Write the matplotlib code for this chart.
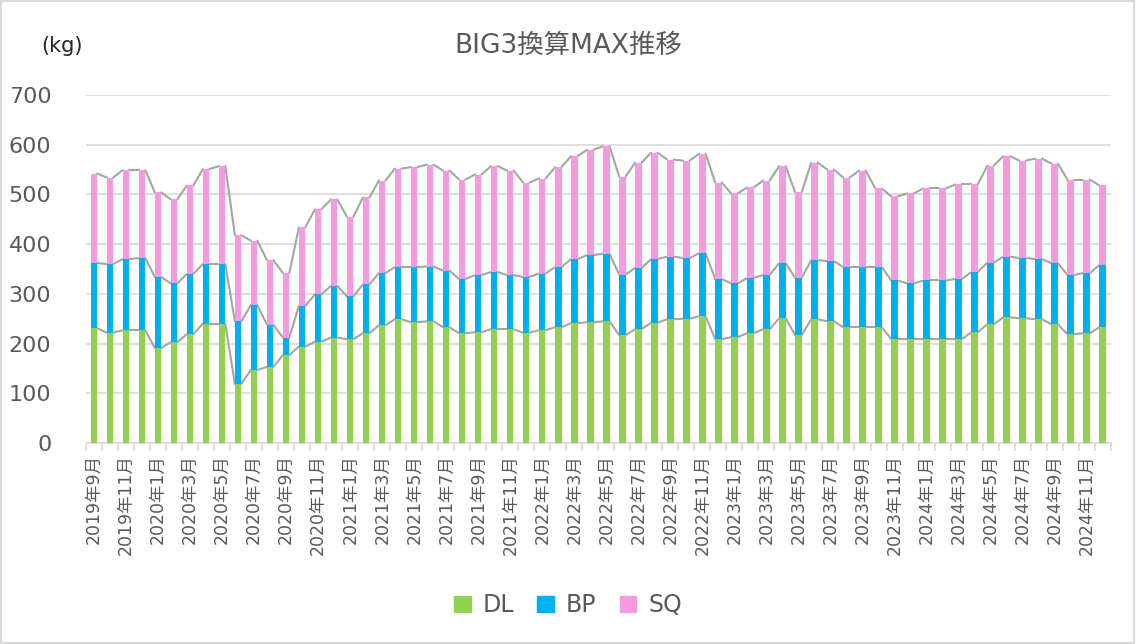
import matplotlib
matplotlib.use("Agg")
import matplotlib.pyplot as plt
from matplotlib.patches import Patch, Rectangle
import numpy as np

plt.rcParams['font.family'] = ['DejaVu Sans', 'Noto Sans CJK JP']

# months 2019-09 .. 2024-12
months = []
for y in range(2019, 2025):
    for m in range(1, 13):
        if (y, m) >= (2019, 9):
            months.append(f"{y}年{m}月")

DL = [231, 222, 227, 227, 191, 203, 219, 240, 240, 119, 147, 153, 177, 194, 204, 212,
      209, 221, 237, 249, 243, 245, 233, 221, 223, 229, 229, 222, 227, 233, 241, 243,
      245, 217, 229, 242, 249, 250, 255, 209, 213, 221, 229, 251, 217, 249, 245, 233,
      233, 233, 209, 209, 209, 209, 209, 223, 239, 253, 251, 249, 239, 219, 221, 233]
BP = [131, 138, 143, 145, 143, 118, 121, 120, 120, 126, 131, 85, 35, 82, 95, 104,
      86, 98, 105, 105, 111, 110, 114, 109, 115, 115, 109, 112, 114, 121, 129, 135,
      136, 122, 123, 128, 126, 122, 127, 121, 108, 111, 109, 111, 115, 119, 121, 121,
      121, 121, 118, 112, 118, 118, 121, 121, 124, 122, 121, 121, 123, 119, 121, 125]
SQ = [180, 174, 179, 177, 170, 169, 178, 191, 197, 173, 129, 130, 130, 158, 171, 174,
      160, 175, 186, 198, 201, 205, 201, 200, 202, 213, 210, 190, 191, 201, 207, 212,
      216, 197, 212, 214, 195, 196, 200, 194, 181, 182, 190, 195, 172, 196, 184, 180,
      194, 158, 169, 181, 185, 185, 190, 176, 195, 202, 196, 202, 200, 192, 188, 160]

colors = {"DL": "#92d050", "BP": "#00b0f0", "SQ": "#f59ae0"}
grey_txt = "#595959"

fig = plt.figure(figsize=(11.36, 6.44), dpi=100)
ax = fig.add_axes([0.0757, 0.312, 0.902, 0.5405])

x = np.arange(len(months))
w = 0.4
dl = np.array(DL); bp = np.array(BP); sq = np.array(SQ)
ax.bar(x, dl, w, color=colors["DL"], zorder=3)
ax.bar(x, bp, w, bottom=dl, color=colors["BP"], zorder=3)
ax.bar(x, sq, w, bottom=dl + bp, color=colors["SQ"], zorder=3)

# series lines between stacked bars
for cum in (dl, dl + bp, dl + bp + sq):
    for i in range(len(x) - 1):
        ax.plot([x[i] + w / 2, x[i + 1] - w / 2], [cum[i], cum[i + 1]],
                color="#a5a5a5", lw=1.5, zorder=2, solid_capstyle="round")

ax.set_xlim(-0.5, len(x) - 0.5)
ax.set_ylim(0, 700)
ax.set_yticks(range(0, 701, 100))
ax.yaxis.grid(True, color="#d9d9d9", lw=1.2, zorder=0)
ax.tick_params(axis="y", length=0, labelsize=16, labelcolor=grey_txt, pad=25)
for s in ("top", "right", "left"):
    ax.spines[s].set_visible(False)
ax.spines["bottom"].set_color("#d9d9d9")
ax.spines["bottom"].set_linewidth(1.2)

# category ticks between bars
ax.set_xticks(np.arange(-0.5, len(x), 1), minor=True)
ax.tick_params(axis="x", which="minor", length=6, color="#d9d9d9", width=1.2)
ax.set_xticks(x[::2])
ax.set_xticklabels(months[::2], rotation=90, fontsize=12.5, color=grey_txt)
ax.tick_params(axis="x", which="major", length=0, pad=8)

fig.text(0.5, 0.928, "BIG3換算MAX推移", ha="center", va="center", fontsize=19, color=grey_txt)
fig.text(0.0546, 0.928, "(kg)", ha="center", va="center", fontsize=15, color="#262626")

handles = [Patch(color=colors[k], label=k) for k in ("DL", "BP", "SQ")]
fig.legend(handles=handles, loc="center", bbox_to_anchor=(0.5, 0.06), ncol=3,
           frameon=False, fontsize=17, handlelength=0.7, handleheight=0.7,
           columnspacing=1.0, handletextpad=0.5, labelcolor=grey_txt)

fig.patches.append(Rectangle((0.001, 0.001), 0.997, 0.997, transform=fig.transFigure,
                             fill=False, edgecolor="#d9d9d9", lw=1.5))

fig.savefig("out.png", dpi=100)
